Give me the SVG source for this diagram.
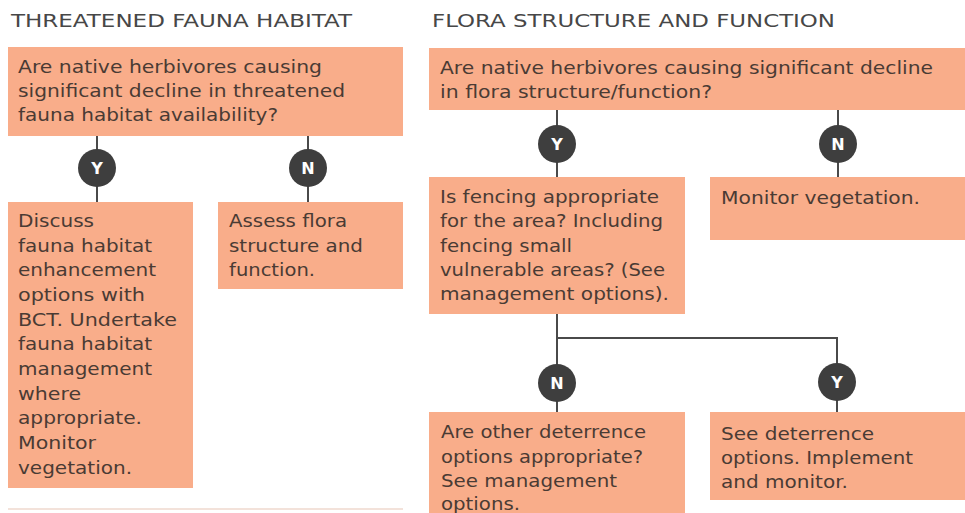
<svg xmlns="http://www.w3.org/2000/svg" width="965" height="513" viewBox="0 0 965 513">
<style>
.box{fill:#f9ad8a}
.t{font-family:"DejaVu Sans","Open Sans",sans-serif;font-size:17.5px;fill:#4a3b34}
.h{font-family:"DejaVu Sans","Open Sans",sans-serif;font-size:18px;fill:#474747}
.ln{stroke:#4a4a4a;stroke-width:2;fill:none}
.c{fill:#3e3e3e}
.yn{font-family:"DejaVu Sans","Liberation Sans",sans-serif;font-size:16px;font-weight:bold;fill:#ffffff;text-anchor:middle}
</style>
<rect width="965" height="513" fill="#ffffff"/>
<text class="h" x="11" y="27" textLength="341" lengthAdjust="spacingAndGlyphs">THREATENED FAUNA HABITAT</text>
<text class="h" x="432" y="27" textLength="403" lengthAdjust="spacingAndGlyphs">FLORA STRUCTURE AND FUNCTION</text>
<line x1="8" y1="509" x2="403" y2="509" stroke="#f3e2da" stroke-width="2"/>
<g id="connectors">
<path class="ln" d="M97 136V202M308 136V202"/>
<path class="ln" d="M557 110V177M838 110V177"/>
<path class="ln" d="M557 314V412M557 338H837V412"/>
</g>
<g id="labels">
<g id="lbl-y1"><circle class="c" cx="97" cy="168" r="19"/><text class="yn" x="97" y="174">Y</text></g>
<g id="lbl-n1"><circle class="c" cx="308" cy="168" r="19"/><text class="yn" x="308" y="174">N</text></g>
<g id="lbl-y2"><circle class="c" cx="557" cy="144" r="19"/><text class="yn" x="557" y="150">Y</text></g>
<g id="lbl-n2"><circle class="c" cx="838" cy="144" r="19"/><text class="yn" x="838" y="150">N</text></g>
<g id="lbl-n3"><circle class="c" cx="557" cy="383" r="19"/><text class="yn" x="557" y="389">N</text></g>
<g id="lbl-y3"><circle class="c" cx="837" cy="382" r="19"/><text class="yn" x="837" y="388">Y</text></g>
</g>
<g id="fauna-q">
<rect class="box" x="8" y="47" width="395" height="89"/>
<text class="t" x="18" y="73" textLength="304" lengthAdjust="spacingAndGlyphs">Are native herbivores causing</text>
<text class="t" x="18" y="97" textLength="327" lengthAdjust="spacingAndGlyphs">significant decline in threatened</text>
<text class="t" x="18" y="121" textLength="260" lengthAdjust="spacingAndGlyphs">fauna habitat availability?</text>
</g>
<g id="fauna-yes">
<rect class="box" x="8" y="202" width="185" height="286"/>
<text class="t" x="18" y="227" textLength="76" lengthAdjust="spacingAndGlyphs">Discuss</text>
<text class="t" x="18" y="252" textLength="134" lengthAdjust="spacingAndGlyphs">fauna habitat</text>
<text class="t" x="18" y="276" textLength="138" lengthAdjust="spacingAndGlyphs">enhancement</text>
<text class="t" x="18" y="301" textLength="127" lengthAdjust="spacingAndGlyphs">options with</text>
<text class="t" x="18" y="326" textLength="159" lengthAdjust="spacingAndGlyphs">BCT. Undertake</text>
<text class="t" x="18" y="350" textLength="134" lengthAdjust="spacingAndGlyphs">fauna habitat</text>
<text class="t" x="18" y="375" textLength="134" lengthAdjust="spacingAndGlyphs">management</text>
<text class="t" x="18" y="400" textLength="63" lengthAdjust="spacingAndGlyphs">where</text>
<text class="t" x="18" y="424" textLength="124" lengthAdjust="spacingAndGlyphs">appropriate.</text>
<text class="t" x="18" y="449" textLength="78" lengthAdjust="spacingAndGlyphs">Monitor</text>
<text class="t" x="18" y="474" textLength="114" lengthAdjust="spacingAndGlyphs">vegetation.</text>
</g>
<g id="fauna-no">
<rect class="box" x="218" y="202" width="185" height="87"/>
<text class="t" x="229" y="227" textLength="118" lengthAdjust="spacingAndGlyphs">Assess flora</text>
<text class="t" x="229" y="252" textLength="134" lengthAdjust="spacingAndGlyphs">structure and</text>
<text class="t" x="229" y="276" textLength="86" lengthAdjust="spacingAndGlyphs">function.</text>
</g>
<g id="flora-q">
<rect class="box" x="429" y="48" width="536" height="62"/>
<text class="t" x="440" y="74" textLength="493" lengthAdjust="spacingAndGlyphs">Are native herbivores causing significant decline</text>
<text class="t" x="440" y="98" textLength="272" lengthAdjust="spacingAndGlyphs">in flora structure/function?</text>
</g>
<g id="fencing">
<rect class="box" x="429" y="177" width="256" height="137"/>
<text class="t" x="440" y="203" textLength="219" lengthAdjust="spacingAndGlyphs">Is fencing appropriate</text>
<text class="t" x="440" y="227" textLength="223" lengthAdjust="spacingAndGlyphs">for the area? Including</text>
<text class="t" x="440" y="252" textLength="132" lengthAdjust="spacingAndGlyphs">fencing small</text>
<text class="t" x="440" y="276" textLength="225" lengthAdjust="spacingAndGlyphs">vulnerable areas? (See</text>
<text class="t" x="440" y="300" textLength="229" lengthAdjust="spacingAndGlyphs">management options).</text>
</g>
<g id="monitor">
<rect class="box" x="710" y="177" width="255" height="63"/>
<text class="t" x="721" y="204" textLength="199" lengthAdjust="spacingAndGlyphs">Monitor vegetation.</text>
</g>
<g id="other-deterrence">
<rect class="box" x="429" y="412" width="256" height="101"/>
<text class="t" x="441" y="438" textLength="205" lengthAdjust="spacingAndGlyphs">Are other deterrence</text>
<text class="t" x="441" y="463" textLength="202" lengthAdjust="spacingAndGlyphs">options appropriate?</text>
<text class="t" x="441" y="487" textLength="176" lengthAdjust="spacingAndGlyphs">See management</text>
<text class="t" x="441" y="510" textLength="79" lengthAdjust="spacingAndGlyphs">options.</text>
</g>
<g id="see-deterrence">
<rect class="box" x="710" y="412" width="255" height="88"/>
<text class="t" x="721" y="440" textLength="153" lengthAdjust="spacingAndGlyphs">See deterrence</text>
<text class="t" x="721" y="464" textLength="192" lengthAdjust="spacingAndGlyphs">options. Implement</text>
<text class="t" x="721" y="488" textLength="127" lengthAdjust="spacingAndGlyphs">and monitor.</text>
</g>
</svg>
